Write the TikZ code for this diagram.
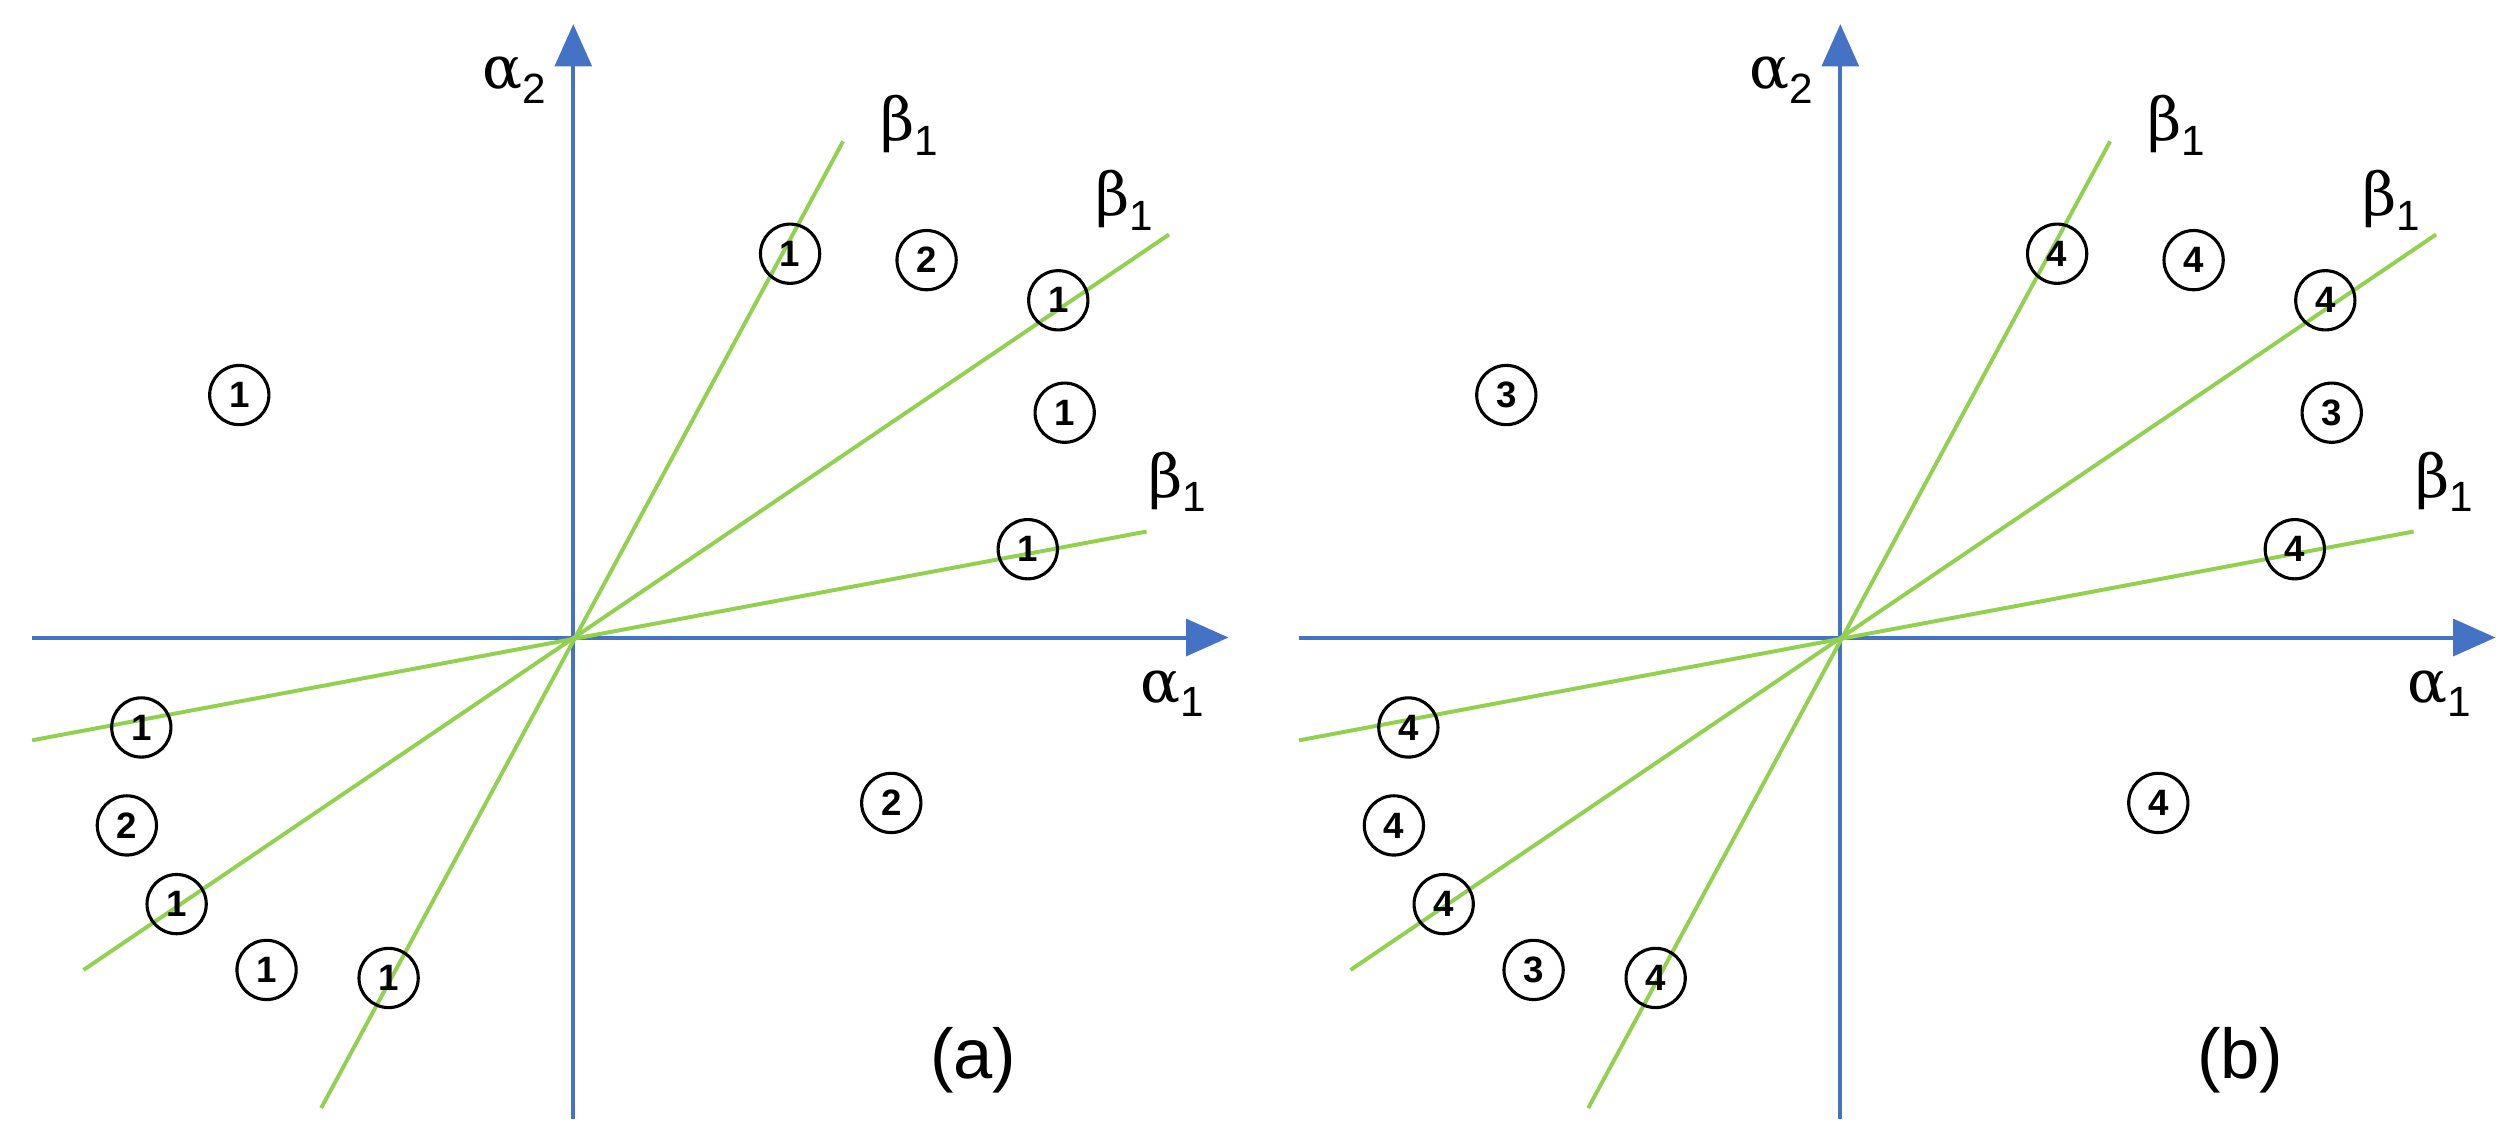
\documentclass[tikz,border=0pt]{standalone}
\usepackage{fontspec}
\setmainfont{Liberation Sans}
\newfontfamily\grk{DejaVu Serif}
\usetikzlibrary{arrows.meta}
\definecolor{axblue}{RGB}{68,114,196}
\definecolor{lgreen}{RGB}{146,208,80}
\newcommand{\gsym}[2]{{\grk #1}\raisebox{-0.25em}{\fontsize{15}{16}\selectfont #2}}
\tikzset{
 ax/.style={axblue,line width=1.4pt,-{Triangle[length=15pt,width=13pt]}},
 gl/.style={lgreen,line width=1.4pt},
 cnum/.style={circle,draw=black,line width=1.1pt,minimum size=21pt,inner sep=0pt,font=\fontsize{13}{14}\selectfont\bfseries},
 lab/.style={font=\fontsize{21}{23}\selectfont},
 plab/.style={font=\fontsize{25}{28}\selectfont}
}
\begin{document}
\begin{tikzpicture}[x=0.02cm,y=-0.02cm]
\useasboundingbox (0,0) rectangle (1568,709);
\foreach \p/\dx/\pl/\a/\b/\c/\d/\e/\f/\g/\h/\i/\j/\k/\l in
 {A/0/(a)/1/2/1/1/1/1/1/2/1/1/1/2, B/789/(b)/4/4/4/3/3/4/4/4/4/3/4/4}{
 \begin{scope}[xshift=\dx*0.02cm]
 \coordinate (\p o) at (357,397);
 \coordinate (\p xs) at (20,397); \coordinate (\p xe) at (765,397);
 \coordinate (\p ys) at (357,697); \coordinate (\p ye) at (357,15);
 \draw[ax] (\p xs) -- (\p xe);
 \draw[ax] (\p ys) -- (\p ye);
 \coordinate (\p l1s) at (200,690); \coordinate (\p l1e) at (525,88);
 \coordinate (\p l2s) at (52,604); \coordinate (\p l2e) at (728,146);
 \coordinate (\p l3s) at (20,461); \coordinate (\p l3e) at (714,331);
 \draw[gl] (\p l1s) -- (\p l1e);
 \draw[gl] (\p l2s) -- (\p l2e);
 \draw[gl] (\p l3s) -- (\p l3e);
 \node[lab] (\p a2) at (320,50) {\gsym{α}{2}};
 \node[lab] (\p a1) at (730,432) {\gsym{α}{1}};
 \node[lab] (\p b1) at (566,78) {\gsym{β}{1}};
 \node[lab] (\p b2) at (700,125) {\gsym{β}{1}};
 \node[lab] (\p b3) at (733,300) {\gsym{β}{1}};
 \node[cnum] (\p c1) at (492,158) {\a};
 \node[cnum] (\p c2) at (577,162) {\b};
 \node[cnum] (\p c3) at (659,187) {\c};
 \node[cnum] (\p c4) at (149,246) {\d};
 \node[cnum] (\p c5) at (663,257) {\e};
 \node[cnum] (\p c6) at (640,342) {\f};
 \node[cnum] (\p c7) at (88,453) {\g};
 \node[cnum] (\p c8) at (79,514) {\h};
 \node[cnum] (\p c9) at (110,563) {\i};
 \node[cnum] (\p c10) at (166,604) {\j};
 \node[cnum] (\p c11) at (242,609) {\k};
 \node[cnum] (\p c12) at (555,500) {\l};
 \node[plab] (\p pl) at (606,660) {\pl};
 \end{scope}}
\end{tikzpicture}
\end{document}
